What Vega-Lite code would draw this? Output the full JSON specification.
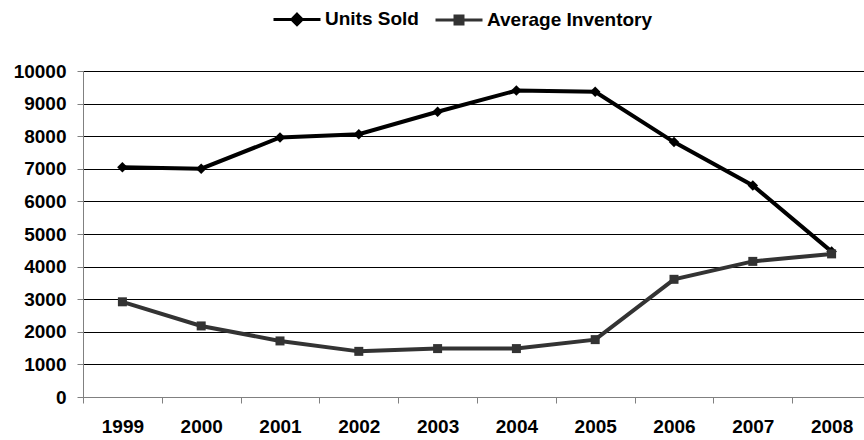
{
  "$schema": "https://vega.github.io/schema/vega-lite/v6.json",
  "width": 781,
  "height": 326,
  "autosize": {"type": "none"},
  "padding": {"left": 83, "top": 71, "right": 0, "bottom": 43},
  "background": "white",
  "config": {
    "view": {"stroke": null},
    "font": "Liberation Sans",
    "axis": {"labelFont": "Liberation Sans", "labelFontWeight": "bold", "labelFontSize": 19, "labelColor": "#000000", "domainColor": "#808080", "tickColor": "#808080", "title": null}
  },
  "data": {
    "values": [
      {"year": "1999", "series": "Units Sold", "value": 7046},
      {"year": "2000", "series": "Units Sold", "value": 7005},
      {"year": "2001", "series": "Units Sold", "value": 7960},
      {"year": "2002", "series": "Units Sold", "value": 8060},
      {"year": "2003", "series": "Units Sold", "value": 8750},
      {"year": "2004", "series": "Units Sold", "value": 9400},
      {"year": "2005", "series": "Units Sold", "value": 9360},
      {"year": "2006", "series": "Units Sold", "value": 7820},
      {"year": "2007", "series": "Units Sold", "value": 6490},
      {"year": "2008", "series": "Units Sold", "value": 4460},
      {"year": "1999", "series": "Average Inventory", "value": 2920},
      {"year": "2000", "series": "Average Inventory", "value": 2180},
      {"year": "2001", "series": "Average Inventory", "value": 1720},
      {"year": "2002", "series": "Average Inventory", "value": 1400},
      {"year": "2003", "series": "Average Inventory", "value": 1485},
      {"year": "2004", "series": "Average Inventory", "value": 1485},
      {"year": "2005", "series": "Average Inventory", "value": 1760},
      {"year": "2006", "series": "Average Inventory", "value": 3610},
      {"year": "2007", "series": "Average Inventory", "value": 4160},
      {"year": "2008", "series": "Average Inventory", "value": 4390}
    ]
  },
  "encoding": {
    "x": {
      "field": "year", "type": "ordinal",
      "scale": {"type": "band", "paddingInner": 0, "paddingOuter": 0, "range": [0, 788]},
      "axis": {"labelAngle": 0, "tickBand": "extent", "tickSize": 6, "labelPadding": 14, "grid": false, "zindex": 1, "domainWidth": 1}
    },
    "y": {
      "field": "value", "type": "quantitative",
      "scale": {"domain": [0, 10000], "nice": false},
      "axis": {"values": [0,1000,2000,3000,4000,5000,6000,7000,8000,9000,10000], "format": "d", "grid": true, "gridColor": "#000000", "gridWidth": 1, "gridOpacity": 1, "tickSize": 6, "labelPadding": 11, "domainWidth": 1}
    },
    "color": {
      "field": "series", "type": "nominal",
      "scale": {"domain": ["Units Sold", "Average Inventory"], "range": ["#000000", "#333333"]}
    }
  },
  "layer": [
    {
      "mark": {"type": "line", "strokeWidth": 4},
      "encoding": {
        "color": {
          "field": "series", "type": "nominal",
          "scale": {"domain": ["Units Sold", "Average Inventory"], "range": ["#000000", "#333333"]},
          "legend": {
            "orient": "none", "direction": "horizontal", "title": null,
            "legendX": 189, "legendY": -77,
            "labelFont": "Liberation Sans", "labelFontWeight": "bold", "labelFontSize": 19, "labelColor": "#000000", "labelLimit": 400,
            "labelOffset": 3, "columnPadding": 10, "padding": 0,
            "symbolSize": 2209, "symbolStrokeWidth": 3,
            "encode": {
              "symbols": {
                "update": {
                  "shape": {"signal": "datum.value === 'Units Sold' ? 'M-1,0L1,0M0,-0.22L0.22,0L0,0.22L-0.22,0Z' : 'M-1,0L1,0M-0.17,-0.17L0.17,-0.17L0.17,0.17L-0.17,0.17Z'"},
                  "fill": {"scale": "color", "field": "value"},
                  "stroke": {"scale": "color", "field": "value"}
                }
              }
            }
          }
        }
      }
    },
    {
      "transform": [{"filter": "datum.series === 'Units Sold'"}],
      "mark": {"type": "point", "filled": true, "opacity": 1, "shape": "diamond", "size": 110},
      "encoding": {
        "color": {"field": "series", "type": "nominal", "legend": null}
      }
    },
    {
      "transform": [{"filter": "datum.series === 'Average Inventory'"}],
      "mark": {"type": "point", "filled": true, "opacity": 1, "shape": "square", "size": 81},
      "encoding": {
        "color": {"field": "series", "type": "nominal", "legend": null}
      }
    }
  ]
}
